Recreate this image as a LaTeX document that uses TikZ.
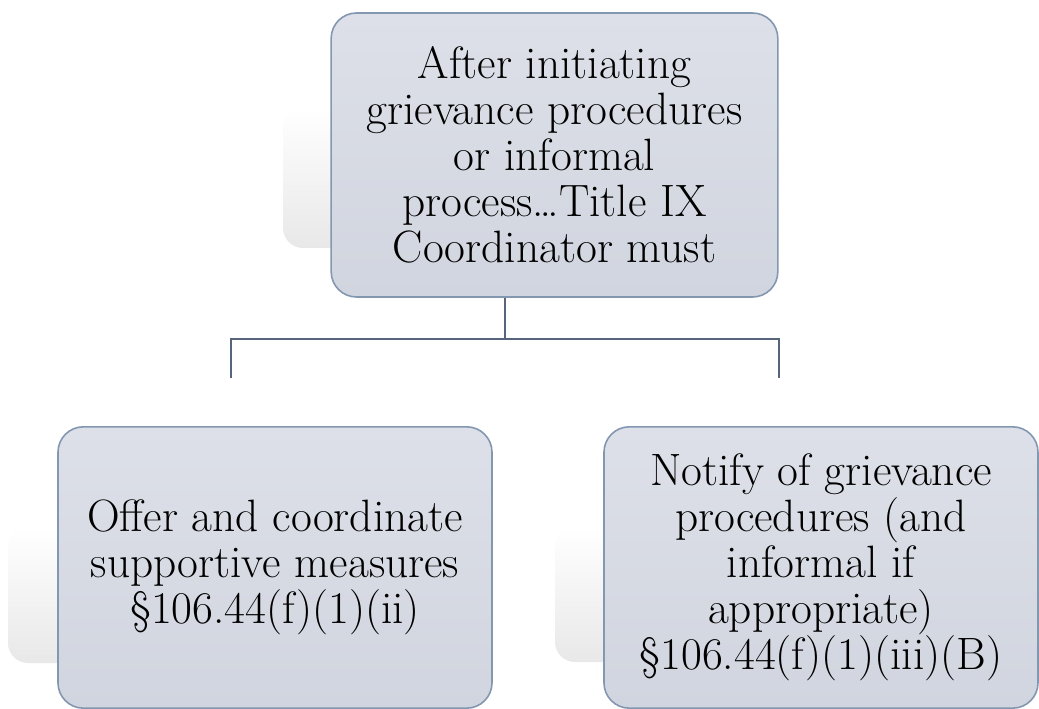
\documentclass[tikz,border=0pt]{standalone}
\usepackage{tikz}
\usetikzlibrary{shapes,positioning}
\definecolor{boxline}{HTML}{8497B0}
\definecolor{boxtop}{HTML}{DDE0E8}
\definecolor{boxbot}{HTML}{D1D5DF}
\definecolor{linkcol}{HTML}{56657B}

\begin{document}
\begin{tikzpicture}[x=0.75pt,y=-0.75pt,
     item/.style={draw=boxline,line width=1.2pt,rectangle,rounded corners=19pt,
       top color=boxtop,bottom color=boxbot,align=center,inner sep=0pt,
       font=\fontsize{34}{34.5}\selectfont},
     ghost/.style={rounded corners=15pt,top color=white,bottom color=black!9},
     link/.style={draw=linkcol,line width=1.5pt}
     ]
\useasboundingbox (0,0) rectangle (1039,709);

%Box sizes (pixels of the page)
\def \topw{335pt}
\def \toph{213pt}
\def \subw{325.5pt}
\def \subh{211pt}

%Level of the branch line and the ends of its drops
\def \ybar{339}
\def \ydrop{378}

%Faint reflections behind the boxes
\shade[ghost] (283,108) rectangle (725,248);
\shade[ghost] (8,527) rectangle (450,663);
\shade[ghost] (555,527) rectangle (1000,662);

%The three boxes
\node[item,minimum width=\topw,minimum height=\toph] (coord) at (554.5,155)
   {After initiating\\grievance procedures\\or informal\\process\ldots Title IX\\Coordinator must};
\node[item,minimum width=\subw,minimum height=\subh] (offer) at (275,567.5)
   {Offer and coordinate\\supportive measures\\\S106.44(f)(1)(ii)};
\node[item,minimum width=\subw,minimum height=\subh] (notify) at (821,567.5)
   {Notify of grievance\\procedures (and\\informal if\\appropriate)\\\S106.44(f)(1)(iii)(B)};

%Branch lines
\coordinate (hub) at (505,\ybar);
\coordinate (lend) at (231,\ydrop);
\coordinate (rend) at (779,\ydrop);
\draw[link] (coord.south -| hub) -- (hub);
\draw[link] (lend) |- (hub) -| (rend);
\end{tikzpicture}
\end{document}
